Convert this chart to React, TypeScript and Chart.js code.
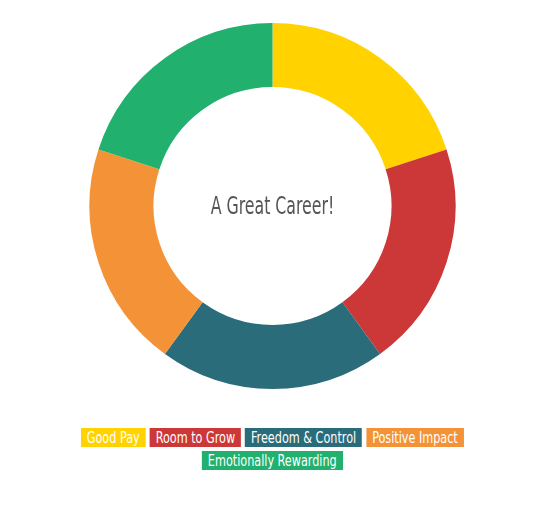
import React, { useEffect, useRef } from "react";
import { Chart, registerables } from "chart.js";

Chart.register(...registerables);

const labels = ["Good Pay", "Room to Grow", "Freedom & Control", "Positive Impact", "Emotionally Rewarding"];
const values = [20, 20, 20, 20, 20];
const colors = ["#FFD200", "#CC3737", "#2A6C7A", "#F39237", "#22B06E"];
const centerText = "A Great Career!";

const FONT = '"DejaVu Sans Condensed", "DejaVu Sans", sans-serif';
const SQUEEZE = 0.78;

const centerPlugin = {
  id: "centerText",
  afterDraw(chart: any) {
    const { ctx, chartArea } = chart;
    const cx = (chartArea.left + chartArea.right) / 2;
    const cy = (chartArea.top + chartArea.bottom) / 2;
    ctx.save();
    ctx.translate(cx, cy + 2);
    ctx.scale(0.73, 1);
    ctx.font = `24px ${FONT}`;
    ctx.fillStyle = "#555555";
    ctx.textAlign = "center";
    ctx.textBaseline = "middle";
    ctx.fillText(centerText, 0, 0);
    ctx.restore();
  },
};

export default function App() {
  const ref = useRef<HTMLCanvasElement | null>(null);
  useEffect(() => {
    if (!ref.current) return;
    const chart = new Chart(ref.current, {
      type: "doughnut",
      data: {
        labels,
        datasets: [
          {
            data: values,
            backgroundColor: colors,
            borderWidth: 0,
          },
        ],
      },
      options: {
        animation: false,
        responsive: true,
        maintainAspectRatio: false,
        cutout: "65%",
        layout: { padding: 15 },
        plugins: {
          legend: { display: false },
          tooltip: { enabled: false },
        },
      },
      plugins: [centerPlugin],
    });
    return () => chart.destroy();
  }, []);

  return (
    <div>
      <div style={{ position: "relative", width: 529, height: 396 }}>
        <canvas ref={ref} />
      </div>
      <div
        style={{
          marginTop: 24,
          marginLeft: "auto",
          marginRight: "auto",
          width: 392 / SQUEEZE,
          transform: `scaleX(${SQUEEZE})`,
          transformOrigin: "center",
          textAlign: "center",
          fontFamily: FONT,
          fontSize: 16,
          lineHeight: "19px",
        }}
      >
        {labels.map((l, i) => (
          <span
            key={l}
            style={{
              display: "inline-block",
              background: colors[i],
              color: "#fff",
              padding: `0 ${6 / SQUEEZE}px`,
              margin: `0 ${2 / SQUEEZE}px 4px`,
              whiteSpace: "nowrap",
            }}
          >
            {l}
          </span>
        ))}
      </div>
    </div>
  );
}
